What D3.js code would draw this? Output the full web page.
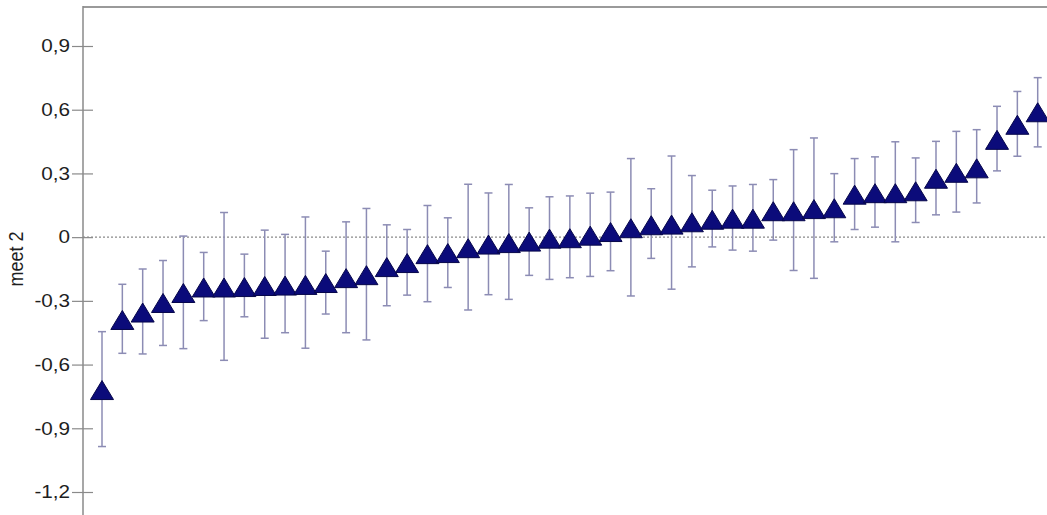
<!DOCTYPE html>
<html>
<head>
<meta charset="utf-8">
<script src="https://cdn.jsdelivr.net/npm/d3@7"></script>
<style>
html,body{margin:0;padding:0;background:#fff;}
svg{display:block;}
</style>
</head>
<body>
<svg id="chart" width="1047" height="515"></svg>
<script>
const categories = d3.range(1, 48).map(String);
const means = [-0.72,-0.39,-0.355,-0.31,-0.263,-0.237,-0.237,-0.235,-0.23,-0.228,-0.225,-0.216,-0.193,-0.179,-0.141,-0.122,-0.08,-0.075,-0.052,-0.035,-0.028,-0.021,-0.007,-0.005,0.007,0.024,0.042,0.056,0.059,0.07,0.082,0.087,0.087,0.122,0.122,0.132,0.136,0.2,0.207,0.207,0.216,0.275,0.303,0.324,0.458,0.529,0.588];
const lower = [-0.986,-0.547,-0.55,-0.51,-0.525,-0.393,-0.58,-0.375,-0.476,-0.45,-0.523,-0.362,-0.45,-0.484,-0.323,-0.273,-0.304,-0.237,-0.343,-0.271,-0.293,-0.18,-0.199,-0.191,-0.185,-0.158,-0.277,-0.1,-0.245,-0.14,-0.046,-0.061,-0.066,-0.014,-0.157,-0.194,-0.022,0.036,0.047,-0.022,0.069,0.105,0.118,0.161,0.312,0.381,0.425];
const upper = [-0.445,-0.222,-0.15,-0.11,0.005,-0.072,0.116,-0.08,0.033,0.013,0.095,-0.066,0.072,0.135,0.058,0.036,0.149,0.091,0.249,0.208,0.248,0.138,0.19,0.194,0.207,0.212,0.37,0.228,0.382,0.29,0.221,0.241,0.248,0.271,0.412,0.467,0.299,0.37,0.378,0.449,0.373,0.451,0.498,0.506,0.616,0.686,0.751];
const tickValues = [-1.2,-0.9,-0.6,-0.3,0,0.3,0.6,0.9];
const tickLabels = ["-1,2","-0,9","-0,6","-0,3","0","0,3","0,6","0,9"];
const yTitle = "meet 2";

const svg = d3.select("#chart");
const axisX = 83, topY = 7, rightX = 1047, bottomY = 515;
const stretch = 1.15;

const x = d3.scalePoint().domain(categories).range([102, 1037.7]);
const y = d3.scaleLinear().domain([-1.2, 0.9]).range([492, 46]);

// top border
svg.append("line").attr("x1", axisX).attr("x2", rightX).attr("y1", topY).attr("y2", topY)
  .attr("stroke", "#9a9a9a").attr("stroke-width", 2);

// zero reference line
svg.append("line").attr("x1", axisX).attr("x2", rightX).attr("y1", y(0)).attr("y2", y(0))
  .attr("stroke", "#8a8a8a").attr("stroke-width", 1.2).attr("stroke-dasharray", "2,2");

// y axis
const yAxis = d3.axisLeft(y).tickValues(tickValues)
  .tickFormat((d, i) => tickLabels[i]).tickSizeOuter(0).tickSizeInner(10).tickPadding(3);
const gy = svg.append("g").attr("transform", `translate(${axisX},0)`).call(yAxis);
gy.select(".domain").remove();
gy.append("line").attr("x1", 0).attr("x2", 0).attr("y1", topY - 1).attr("y2", bottomY)
  .attr("stroke", "#8a8a8a").attr("stroke-width", 1.5);
gy.selectAll(".tick line").attr("x1", -11).attr("x2", 10).attr("stroke", "#8a8a8a").attr("stroke-width", 1.2);
gy.selectAll(".tick text")
  .attr("x", -13 / stretch)
  .attr("transform", `scale(${stretch},1)`)
  .attr("font-family", "Liberation Sans, Arial, sans-serif")
  .attr("font-size", 18).attr("fill", "#1e1e1e");

// y title
svg.append("text")
  .attr("transform", `translate(23,259) scale(${stretch},1) rotate(-90)`)
  .attr("text-anchor", "middle")
  .attr("font-family", "Liberation Sans, Arial, sans-serif")
  .attr("font-size", 18).attr("fill", "#1e1e1e")
  .text(yTitle);

const data = categories.map((c, i) => ({c, m: means[i], lo: lower[i], hi: upper[i]}));
const barColor = "#8c8cb4";
const capW = 4;

const g = svg.append("g");
const eb = g.selectAll("g.eb").data(data).join("g").attr("class", "eb");
eb.append("line").attr("x1", d => x(d.c)).attr("x2", d => x(d.c))
  .attr("y1", d => y(d.hi)).attr("y2", d => y(d.lo))
  .attr("stroke", barColor).attr("stroke-width", 1.5);
eb.append("line").attr("x1", d => x(d.c) - capW).attr("x2", d => x(d.c) + capW)
  .attr("y1", d => y(d.hi)).attr("y2", d => y(d.hi))
  .attr("stroke", barColor).attr("stroke-width", 1.5);
eb.append("line").attr("x1", d => x(d.c) - capW).attr("x2", d => x(d.c) + capW)
  .attr("y1", d => y(d.lo)).attr("y2", d => y(d.lo))
  .attr("stroke", barColor).attr("stroke-width", 1.5);

const triW = 23, triH = 19;
g.selectAll("path.tri").data(data).join("path").attr("class", "tri")
  .attr("d", d => {
    const cx = x(d.c), cy = y(d.m);
    return `M${cx},${cy - triH / 2}L${cx + triW / 2},${cy + triH / 2}L${cx - triW / 2},${cy + triH / 2}Z`;
  })
  .attr("fill", "#0b0b7a").attr("stroke", "#06064a").attr("stroke-width", 1);
</script>
</body>
</html>
